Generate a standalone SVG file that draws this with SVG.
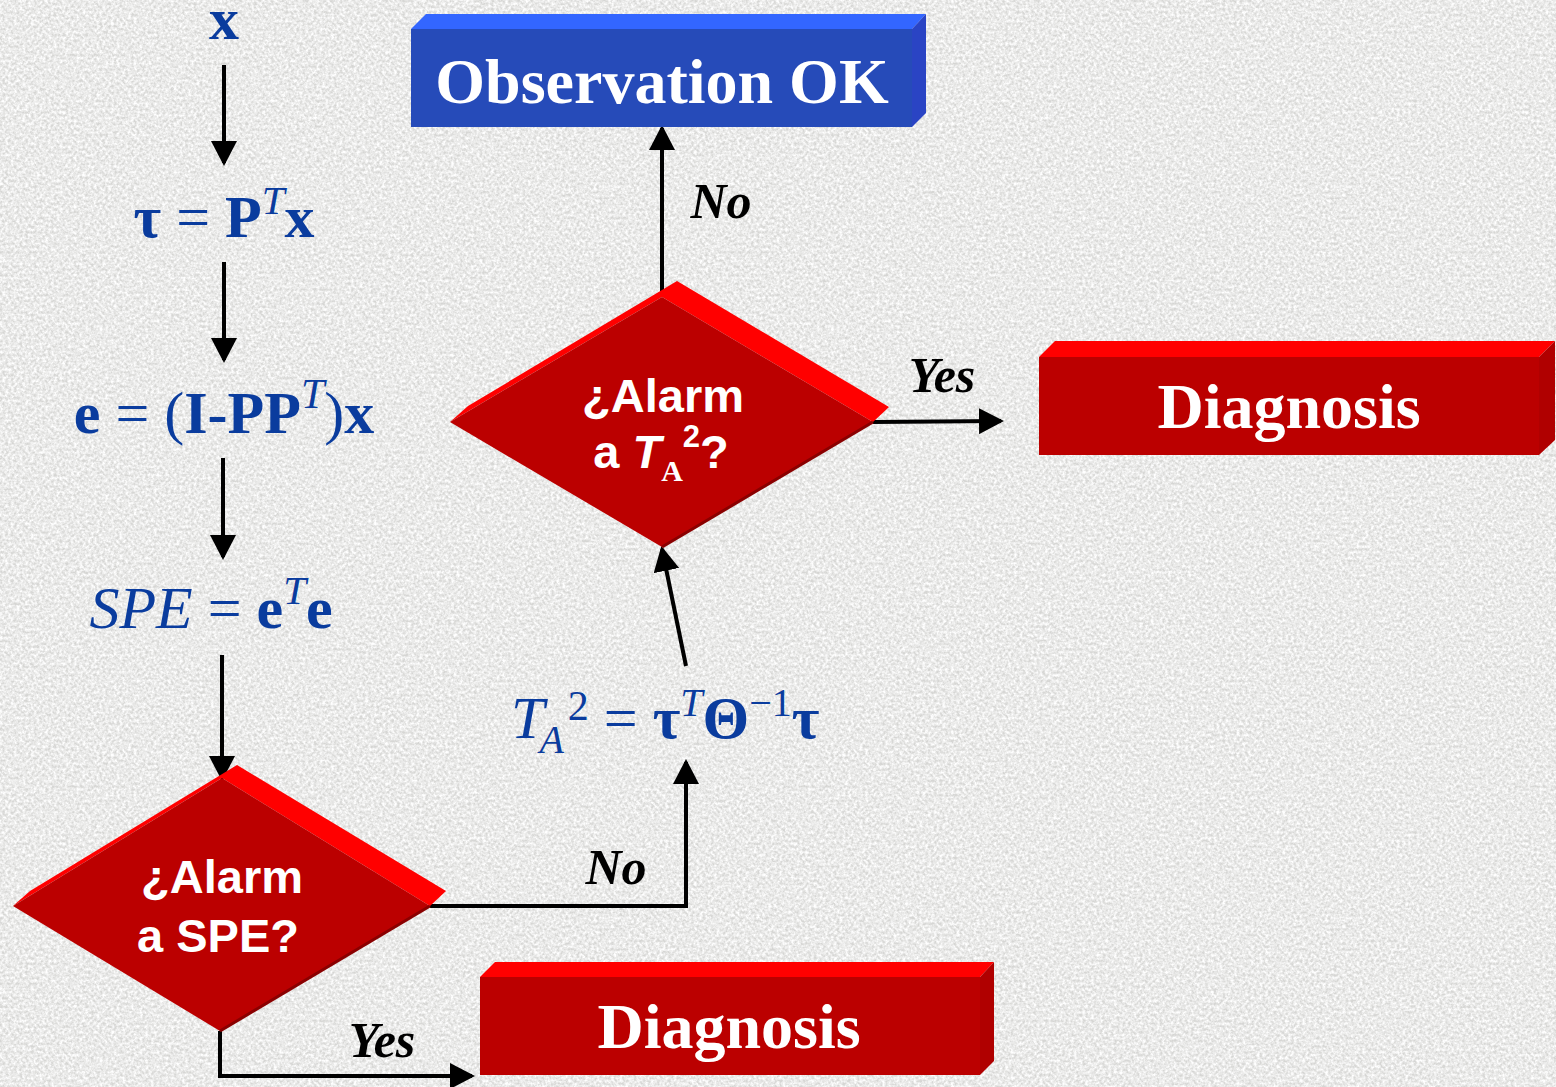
<svg xmlns="http://www.w3.org/2000/svg" width="1556" height="1087" viewBox="0 0 1556 1087">
<style>
.math{font-family:"Liberation Serif","Times New Roman",serif;fill:#0a3c9e;font-size:60px}
.b{font-weight:bold}
.i{font-style:italic}
.lbl{font-family:"Liberation Serif","Times New Roman",serif;font-weight:bold;font-style:italic;font-size:50px;fill:#000;text-anchor:middle}
.boxtxt{font-family:"Liberation Serif","Times New Roman",serif;font-weight:bold;font-size:64px;fill:#fff;text-anchor:middle}
.dtxt{font-family:"Liberation Sans",Arial,sans-serif;font-weight:bold;font-size:47px;fill:#fff;text-anchor:middle}
.conn{fill:none;stroke:#000;stroke-width:4}
.front{fill:#bb0000}
.top{fill:#ff0000}
.side{fill:#b00000}
.shade{fill:none;stroke:#8a0000;stroke-width:3}
</style>
<defs>
<marker id="ah" markerUnits="userSpaceOnUse" markerWidth="26" markerHeight="26" refX="22" refY="13" orient="auto">
<path d="M0,0 L25,13 L0,26 z" fill="#000"/>
</marker>
<filter id="noise" x="0" y="0" width="100%" height="100%">
<feTurbulence type="fractalNoise" baseFrequency="0.35" numOctaves="3" seed="7"/>
<feColorMatrix type="matrix" values="0 0 0 0 1  0 0 0 0 1  0 0 0 0 1  1.9 0 0 0 -0.45"/>
</filter>
</defs>
<rect width="1556" height="1087" fill="#d6d6d4"/>
<rect width="1556" height="1087" filter="url(#noise)"/>

<g id="connectors">
<line class="conn" x1="224" y1="65" x2="224" y2="163" marker-end="url(#ah)"/>
<line class="conn" x1="224" y1="262" x2="224" y2="360" marker-end="url(#ah)"/>
<line class="conn" x1="223" y1="458" x2="223" y2="557" marker-end="url(#ah)"/>
<line class="conn" x1="222" y1="655" x2="222" y2="778" marker-end="url(#ah)"/>
<polyline class="conn" points="430,906 686,906 686,762" marker-end="url(#ah)"/>
<line class="conn" x1="686" y1="666" x2="662" y2="549" marker-end="url(#ah)"/>
<line class="conn" x1="662" y1="297" x2="662" y2="128" marker-end="url(#ah)"/>
<line class="conn" x1="873" y1="422" x2="1001" y2="421" marker-end="url(#ah)"/>
<polyline class="conn" points="220,1031 220,1076 472,1076" marker-end="url(#ah)"/>
<text class="lbl" x="616" y="884">No</text>
<text class="lbl" x="721" y="218">No</text>
<text class="lbl" x="942" y="392">Yes</text>
<text class="lbl" x="382" y="1057">Yes</text>
</g>

<g id="x">
<text class="math b" x="224" y="39" text-anchor="middle" font-size="64">x</text>
</g>

<g id="tau">
<text class="math" x="224" y="237" text-anchor="middle" font-size="62"><tspan class="b">τ</tspan> = <tspan class="b">P</tspan><tspan class="i" font-size="41" dy="-23">T</tspan><tspan class="b" dy="23">x</tspan></text>
</g>

<g id="e">
<text class="math" x="224" y="433" text-anchor="middle" font-size="64"><tspan class="b">e</tspan> = (<tspan class="b">I-PP</tspan><tspan class="i" font-size="42" dy="-25">T</tspan><tspan dy="25">)</tspan><tspan class="b">x</tspan></text>
</g>

<g id="spe">
<text class="math" x="211" y="628" text-anchor="middle" font-size="63"><tspan class="i">SPE</tspan> = <tspan class="b">e</tspan><tspan class="i" font-size="41" dy="-24">T</tspan><tspan class="b" dy="24">e</tspan></text>
</g>

<g id="t2">
<text class="math" x="511" y="738" font-size="61"><tspan class="i">T</tspan><tspan class="i" font-size="40" dx="-5" dy="15">A</tspan><tspan font-size="42" dx="4" dy="-33">2</tspan><tspan dy="18"> = </tspan><tspan class="b">τ</tspan><tspan class="i" font-size="40" dy="-22">T</tspan><tspan class="b" dy="22">Θ</tspan><tspan font-size="40" dy="-22">−1</tspan><tspan class="b" dy="22">τ</tspan></text>
</g>

<g id="observation-ok">
<polygon points="411,29 426,14 926,14 912,29" fill="#3366ff"/>
<polygon points="912,29 926,14 926,113 912,127" fill="#2a44c4"/>
<rect x="411" y="29" width="501" height="98" fill="#264bb9"/>
<text class="boxtxt" x="662" y="103">Observation OK</text>
</g>

<g id="alarm-t2">
<polygon class="top" points="450,422 468,406 677,281 889,407 873,422 662,297"/>
<polygon class="front" points="662,297 873,422 662,547 450,422"/>
<polyline class="shade" points="873,422 662,547"/>
<text class="dtxt" x="663" y="412">¿Alarm</text>
<text class="dtxt" x="661" y="468">a <tspan font-style="italic">T</tspan><tspan font-family="Liberation Serif,serif" font-size="30" dy="13">A</tspan><tspan font-size="31" dy="-34">2</tspan><tspan dy="21">?</tspan></text>
</g>

<g id="diagnosis-1">
<polygon class="top" points="1039,357 1055,341 1555,341 1539,357"/>
<polygon class="side" points="1539,357 1555,341 1555,440 1539,455"/>
<rect class="front" x="1039" y="357" width="500" height="98"/>
<text class="boxtxt" x="1289" y="428">Diagnosis</text>
</g>

<g id="alarm-spe">
<polygon class="top" points="13,906 30,891 237,765 446,891 430,906 222,778"/>
<polygon class="front" points="222,778 430,906 220,1031 13,906"/>
<polyline class="shade" points="430,906 220,1031"/>
<text class="dtxt" x="222" y="893">¿Alarm</text>
<text class="dtxt" x="218" y="952">a SPE?</text>
</g>

<g id="diagnosis-2">
<polygon class="top" points="480,977 495,962 994,962 980,977"/>
<polygon class="side" points="980,977 994,962 994,1061 980,1075"/>
<rect class="front" x="480" y="977" width="500" height="98"/>
<text class="boxtxt" x="729" y="1048">Diagnosis</text>
</g>
</svg>
